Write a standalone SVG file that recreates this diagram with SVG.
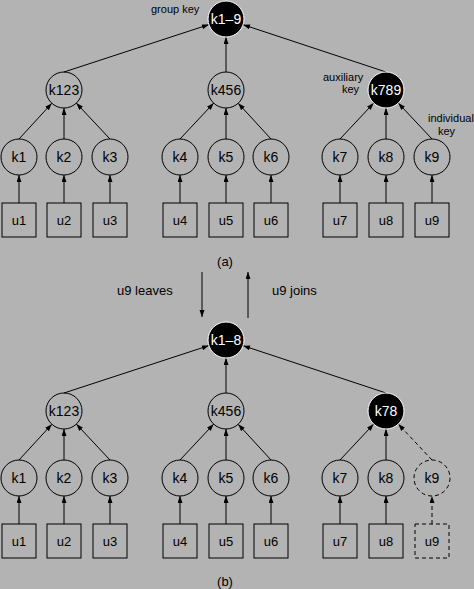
<svg xmlns="http://www.w3.org/2000/svg" width="474" height="589" viewBox="0 0 474 589">
<style>
text{font-family:"Liberation Sans",Arial,sans-serif;fill:#000}
.n{fill:none;stroke:#000;stroke-width:1}
.b{fill:#000;stroke:#fff;stroke-width:1}
.kl{font-size:14px;text-anchor:middle}
.wl{font-size:14px;text-anchor:middle;fill:#fff}
.ul{font-size:13px;text-anchor:middle}
.lab{font-size:11px}
.cap{font-size:13px}
.c line{stroke:#000;stroke-width:1;marker-end:url(#ah)}
.d{stroke-dasharray:4,3}
</style>
<defs>
<marker id="ah" markerWidth="8" markerHeight="6" refX="7" refY="2.5" orient="auto" markerUnits="userSpaceOnUse"><path d="M0,0 L7,2.5 L0,5 Z" fill="#000"/></marker>
</defs>
<rect width="474" height="589" fill="#b3b3b3"/>

<g id="connectors" class="c">
<line x1="19" y1="203" x2="19" y2="175"/>
<line x1="64" y1="203" x2="64" y2="175"/>
<line x1="110" y1="203" x2="110" y2="175"/>
<line x1="180" y1="203" x2="180" y2="175"/>
<line x1="226" y1="203" x2="226" y2="175"/>
<line x1="271" y1="203" x2="271" y2="175"/>
<line x1="340" y1="203" x2="340" y2="175"/>
<line x1="386" y1="203" x2="386" y2="175"/>
<line x1="432" y1="203" x2="432" y2="175"/>
<line x1="19" y1="139" x2="51.8" y2="103.3"/>
<line x1="64" y1="139" x2="64" y2="108"/>
<line x1="110" y1="139" x2="76.3" y2="103.1"/>
<line x1="180" y1="139" x2="213.7" y2="103.1"/>
<line x1="226" y1="139" x2="226" y2="108"/>
<line x1="271" y1="139" x2="238.2" y2="103.3"/>
<line x1="340" y1="139" x2="373.7" y2="103.1"/>
<line x1="386" y1="139" x2="386" y2="108"/>
<line x1="432" y1="139" x2="398.3" y2="103.1"/>
<line x1="64" y1="72" x2="208.9" y2="24.6"/>
<line x1="226" y1="72" x2="226" y2="37"/>
<line x1="386" y1="72" x2="243.1" y2="24.7"/>

<line x1="202" y1="272" x2="202" y2="317"/>
<line x1="248" y1="318" x2="248" y2="272"/>

<line x1="19" y1="524" x2="19" y2="496"/>
<line x1="64" y1="524" x2="64" y2="496"/>
<line x1="110" y1="524" x2="110" y2="496"/>
<line x1="180" y1="524" x2="180" y2="496"/>
<line x1="226" y1="524" x2="226" y2="496"/>
<line x1="271" y1="524" x2="271" y2="496"/>
<line x1="340" y1="524" x2="340" y2="496"/>
<line x1="386" y1="524" x2="386" y2="496"/>
<line class="d" x1="432" y1="524" x2="432" y2="496"/>
<line x1="19" y1="460" x2="51.8" y2="424.3"/>
<line x1="64" y1="460" x2="64" y2="429"/>
<line x1="110" y1="460" x2="76.3" y2="424.1"/>
<line x1="180" y1="460" x2="213.7" y2="424.1"/>
<line x1="226" y1="460" x2="226" y2="429"/>
<line x1="271" y1="460" x2="238.2" y2="424.3"/>
<line x1="340" y1="460" x2="373.7" y2="424.1"/>
<line x1="386" y1="460" x2="386" y2="429"/>
<line class="d" x1="432" y1="460" x2="398.3" y2="424.1"/>
<line x1="64" y1="393" x2="208.9" y2="345.6"/>
<line x1="226" y1="393" x2="226" y2="358"/>
<line x1="386" y1="393" x2="243.1" y2="345.7"/>
</g>

<g id="a_root"><circle class="b" cx="226" cy="19" r="18"/><text class="wl" x="226" y="24">k1–9</text></g>
<g id="a_k123"><circle class="n" cx="64" cy="90" r="18"/><text class="kl" x="64" y="95">k123</text></g>
<g id="a_k456"><circle class="n" cx="226" cy="90" r="18"/><text class="kl" x="226" y="95">k456</text></g>
<g id="a_k789"><circle class="b" cx="386" cy="90" r="18"/><text class="wl" x="386" y="95">k789</text></g>
<g id="a_k1"><circle class="n" cx="19" cy="157" r="18"/><text class="kl" x="19" y="162">k1</text></g>
<g id="a_k2"><circle class="n" cx="64" cy="157" r="18"/><text class="kl" x="64" y="162">k2</text></g>
<g id="a_k3"><circle class="n" cx="110" cy="157" r="18"/><text class="kl" x="110" y="162">k3</text></g>
<g id="a_k4"><circle class="n" cx="180" cy="157" r="18"/><text class="kl" x="180" y="162">k4</text></g>
<g id="a_k5"><circle class="n" cx="226" cy="157" r="18"/><text class="kl" x="226" y="162">k5</text></g>
<g id="a_k6"><circle class="n" cx="271" cy="157" r="18"/><text class="kl" x="271" y="162">k6</text></g>
<g id="a_k7"><circle class="n" cx="340" cy="157" r="18"/><text class="kl" x="340" y="162">k7</text></g>
<g id="a_k8"><circle class="n" cx="386" cy="157" r="18"/><text class="kl" x="386" y="162">k8</text></g>
<g id="a_k9"><circle class="n" cx="432" cy="157" r="18"/><text class="kl" x="432" y="162">k9</text></g>
<g id="a_u1"><rect class="n" x="2" y="203" width="34" height="34"/><text class="ul" x="19" y="225">u1</text></g>
<g id="a_u2"><rect class="n" x="47" y="203" width="34" height="34"/><text class="ul" x="64" y="225">u2</text></g>
<g id="a_u3"><rect class="n" x="93" y="203" width="34" height="34"/><text class="ul" x="110" y="225">u3</text></g>
<g id="a_u4"><rect class="n" x="163" y="203" width="34" height="34"/><text class="ul" x="180" y="225">u4</text></g>
<g id="a_u5"><rect class="n" x="209" y="203" width="34" height="34"/><text class="ul" x="226" y="225">u5</text></g>
<g id="a_u6"><rect class="n" x="254" y="203" width="34" height="34"/><text class="ul" x="271" y="225">u6</text></g>
<g id="a_u7"><rect class="n" x="323" y="203" width="34" height="34"/><text class="ul" x="340" y="225">u7</text></g>
<g id="a_u8"><rect class="n" x="369" y="203" width="34" height="34"/><text class="ul" x="386" y="225">u8</text></g>
<g id="a_u9"><rect class="n" x="415" y="203" width="34" height="34"/><text class="ul" x="432" y="225">u9</text></g>

<g id="b_root"><circle class="b" cx="226" cy="340" r="18"/><text class="wl" x="226" y="345">k1–8</text></g>
<g id="b_k123"><circle class="n" cx="64" cy="411" r="18"/><text class="kl" x="64" y="416">k123</text></g>
<g id="b_k456"><circle class="n" cx="226" cy="411" r="18"/><text class="kl" x="226" y="416">k456</text></g>
<g id="b_k78"><circle class="b" cx="386" cy="411" r="18"/><text class="wl" x="386" y="416">k78</text></g>
<g id="b_k1"><circle class="n" cx="19" cy="478" r="18"/><text class="kl" x="19" y="483">k1</text></g>
<g id="b_k2"><circle class="n" cx="64" cy="478" r="18"/><text class="kl" x="64" y="483">k2</text></g>
<g id="b_k3"><circle class="n" cx="110" cy="478" r="18"/><text class="kl" x="110" y="483">k3</text></g>
<g id="b_k4"><circle class="n" cx="180" cy="478" r="18"/><text class="kl" x="180" y="483">k4</text></g>
<g id="b_k5"><circle class="n" cx="226" cy="478" r="18"/><text class="kl" x="226" y="483">k5</text></g>
<g id="b_k6"><circle class="n" cx="271" cy="478" r="18"/><text class="kl" x="271" y="483">k6</text></g>
<g id="b_k7"><circle class="n" cx="340" cy="478" r="18"/><text class="kl" x="340" y="483">k7</text></g>
<g id="b_k8"><circle class="n" cx="386" cy="478" r="18"/><text class="kl" x="386" y="483">k8</text></g>
<g id="b_k9"><circle class="n d" cx="432" cy="478" r="18"/><text class="kl" x="432" y="483">k9</text></g>
<g id="b_u1"><rect class="n" x="2" y="524" width="34" height="34"/><text class="ul" x="19" y="546">u1</text></g>
<g id="b_u2"><rect class="n" x="47" y="524" width="34" height="34"/><text class="ul" x="64" y="546">u2</text></g>
<g id="b_u3"><rect class="n" x="93" y="524" width="34" height="34"/><text class="ul" x="110" y="546">u3</text></g>
<g id="b_u4"><rect class="n" x="163" y="524" width="34" height="34"/><text class="ul" x="180" y="546">u4</text></g>
<g id="b_u5"><rect class="n" x="209" y="524" width="34" height="34"/><text class="ul" x="226" y="546">u5</text></g>
<g id="b_u6"><rect class="n" x="254" y="524" width="34" height="34"/><text class="ul" x="271" y="546">u6</text></g>
<g id="b_u7"><rect class="n" x="323" y="524" width="34" height="34"/><text class="ul" x="340" y="546">u7</text></g>
<g id="b_u8"><rect class="n" x="369" y="524" width="34" height="34"/><text class="ul" x="386" y="546">u8</text></g>
<g id="b_u9"><rect class="n d" x="415" y="524" width="34" height="34"/><text class="ul" x="432" y="546">u9</text></g>

<g id="labels">
<text class="lab" x="151" y="13">group key</text>
<text class="lab" x="323" y="81">auxiliary</text>
<text class="lab" x="342" y="93">key</text>
<text class="lab" x="428" y="122">individual</text>
<text class="lab" x="438" y="135">key</text>
<text class="cap" x="225" y="266" text-anchor="middle">(a)</text>
<text class="cap" x="117" y="295">u9 leaves</text>
<text class="cap" x="272" y="295">u9 joins</text>
<text class="cap" x="225" y="586" text-anchor="middle">(b)</text>
</g>
</svg>
